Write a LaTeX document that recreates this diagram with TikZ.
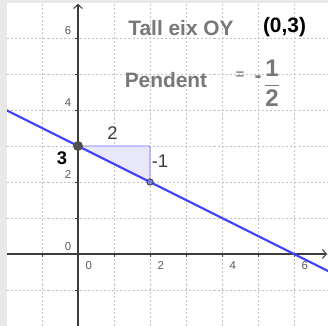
\documentclass[tikz,border=0pt]{standalone}
\usepackage{fontspec}
\setmainfont{Liberation Sans}
\usepackage{tkz-euclide}
\usetikzlibrary{arrows.meta,calc}
\definecolor{LineClr}{RGB}{64,64,255}
\definecolor{TriClr}{RGB}{110,110,255}
\definecolor{TriFill}{RGB}{232,232,250}
\definecolor{GridClr}{RGB}{195,195,195}
\definecolor{AxisClr}{RGB}{60,60,60}
\definecolor{TitleClr}{RGB}{120,120,120}
\definecolor{TickClr}{RGB}{90,90,90}
\definecolor{BandClr}{RGB}{232,232,232}
\definecolor{PtClr}{RGB}{120,120,230}

\tikzset{
  gridline/.style={GridClr,line width=0.6pt,dash pattern=on 1.6pt off 1.6pt},
  axisline/.style={AxisClr,line width=0.8pt,-{Straight Barb[length=3.2pt,width=7pt]}},
  ticklbl/.style={font=\fontsize{9}{10}\selectfont,text=TickClr,inner sep=0pt},
  titletxt/.style={font=\fontsize{16.5}{19}\selectfont\bfseries,text=TitleClr,inner sep=0pt},
  sidelbl/.style={font=\fontsize{14.5}{16}\selectfont,inner sep=0pt}
}

\begin{document}
\begin{tikzpicture}
\useasboundingbox (-2.1667,-2) rectangle (6.9444,7.0556);
\fill[BandClr] (-2.1667,-2) rectangle (6.9444,7.0556);
\fill[white] (-1.972,-2) rectangle (6.9444,6.972);

% grid
\foreach \x in {-1,...,6}
  \draw[gridline] (\x,-2) -- (\x,6.972);
\foreach \y in {-1,...,6}
  \draw[gridline] (-1.972,\y) -- (6.9444,\y);

% axes
\draw[axisline] (0,-2) -- (0,6.95);
\draw[axisline] (-1.972,0) -- (6.92,0);
\foreach \x in {-1,1,2,3,4,5,6}
  \draw[AxisClr,line width=0.6pt] (\x,0) -- (\x,-0.08);
\foreach \y in {-1,1,2,3,4,5,6}
  \draw[AxisClr,line width=0.6pt] (0,\y) -- (-0.08,\y);

\foreach \v/\n in {0/y0,2/y2,4/y4,6/y6}
  \node[ticklbl] (\n) at (-0.278,\v+0.194) {\v};
\foreach \v/\n in {0/x0,2/x2,4/x4,6/x6}
  \node[ticklbl] (\n) at (\v+0.3,-0.333) {\v};

\tkzDefPoints{0/3/A,2/3/C,2/2/B,6/0/D}

\tkzFillPolygon[fill=TriFill](A,C,B)
\tkzDrawPolygon[color=TriClr,line width=0.6pt](A,C,B)

\begin{scope}
\clip (-1.972,-2) rectangle (6.9444,6.972);
\tkzDrawLine[color=LineClr,line width=1.6pt,add=0.35 and 0.2](A,D)
\end{scope}

\fill[AxisClr!90] (A) circle (5pt*0.79);
\filldraw[fill=PtClr,draw=AxisClr,line width=0.6pt] (B) circle (3.2pt*0.79);

% labels
\node[sidelbl,text=AxisClr] (run) at (0.958,3.347) {2};
\node[sidelbl,text=AxisClr] (rise) at (2.278,2.583) {-1};
\node[sidelbl,font=\fontsize{14.5}{16}\selectfont\bfseries] (cut) at (-0.444,2.667) {3};

\node[titletxt] (tall) at (2.861,6.278) {Tall eix OY};
\node[titletxt,text=black] (tallval) at (5.736,6.306) {(0,3)};
\node[titletxt] (pend) at (2.444,4.833) {Pendent};
\node[inner sep=0pt,font=\fontsize{12}{13}\selectfont,text=TickClr] (eq) at (4.5,4.95) {=};
\node[titletxt] (minus) at (5.0,4.861) {-};
\node[titletxt,font=\fontsize{19}{22}\selectfont\bfseries] (frac) at (5.389,4.75) {$\displaystyle\frac{\textbf{1}}{\textbf{2}}$};
\end{tikzpicture}
\end{document}
